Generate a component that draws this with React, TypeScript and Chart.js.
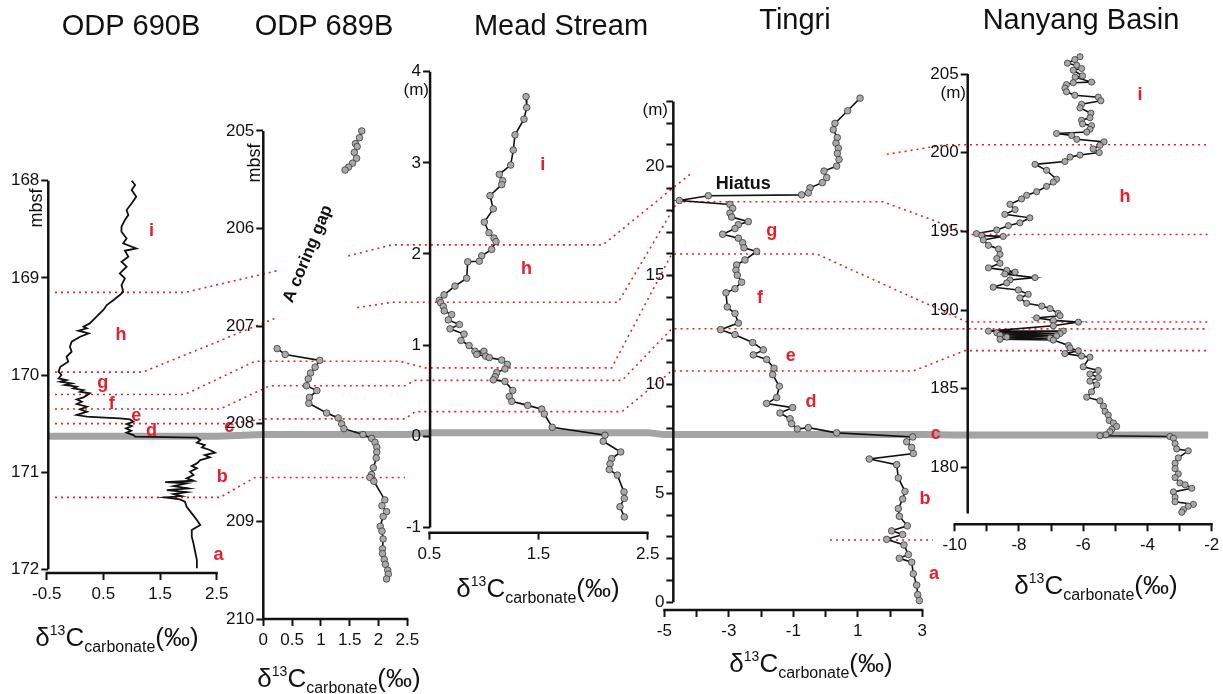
import { useEffect, useRef } from 'react';
import { Chart, registerables } from 'chart.js';

Chart.register(...registerables);

const W = 1223;
const H = 694;
const FONT = "'Liberation Sans', Arial, Helvetica, sans-serif";
const RED = '#e3202b';
const INK = '#111111';

// ================= DATA =================
// ODP 690B : [depth (mbsf), d13C carbonate (permil)]
const odp690b = [
  [168.000, 1.00], [168.045, 1.06], [168.096, 1.00], [168.165, 1.08], [168.233, 1.00], [168.302, 0.91],
  [168.353, 0.94], [168.405, 0.88], [168.473, 0.82], [168.525, 0.82], [168.594, 0.91], [168.645, 0.85],
  [168.697, 1.08], [168.721, 0.88], [168.782, 0.94], [168.834, 0.82], [168.885, 0.91], [168.954, 0.79],
  [169.005, 0.88], [169.074, 0.82], [169.143, 0.85], [169.177, 0.79], [169.228, 0.68], [169.280, 0.56],
  [169.331, 0.50], [169.400, 0.38], [169.469, 0.26], [169.503, 0.15], [169.520, 0.21], [169.544, 0.06],
  [169.571, 0.24], [169.606, 0.09], [169.657, -0.06], [169.709, -0.09], [169.760, -0.06], [169.812, -0.15],
  [169.863, -0.12], [169.915, -0.26], [169.966, -0.29], [170.000, -0.24], [170.035, -0.29], [170.052, -0.15],
  [170.069, -0.26], [170.086, -0.06], [170.103, -0.18], [170.120, 0.03], [170.138, -0.03], [170.155, 0.15],
  [170.172, 0.09], [170.189, 0.26], [170.206, 0.22], [170.230, 0.15], [170.251, 0.03], [170.275, 0.12],
  [170.299, 0.03], [170.326, 0.21], [170.354, 0.09], [170.378, 0.21], [170.412, 0.03], [170.429, 0.21],
  [170.436, 0.44], [170.446, 0.79], [170.457, 0.97], [170.481, 1.03], [170.505, 0.91], [170.525, 1.00],
  [170.549, 0.90], [170.573, 0.99], [170.594, 0.91], [170.618, 1.03], [170.635, 1.06], [170.645, 2.15],
  [170.669, 2.21], [170.697, 2.15], [170.721, 2.29], [170.745, 2.24], [170.772, 2.38], [170.800, 2.47],
  [170.824, 2.29], [170.848, 2.38], [170.875, 2.21], [170.910, 2.15], [170.937, 2.06], [170.961, 2.15],
  [170.995, 2.03], [171.030, 2.09], [171.064, 1.97], [171.088, 2.09], [171.102, 1.59], [171.115, 1.97],
  [171.143, 1.74], [171.167, 2.00], [171.184, 1.62], [171.205, 1.97], [171.225, 1.74], [171.246, 1.88],
  [171.260, 1.59], [171.280, 1.85], [171.304, 1.94], [171.356, 1.97], [171.424, 2.06], [171.493, 2.15],
  [171.544, 2.21], [171.596, 2.06], [171.664, 2.06], [171.733, 2.09], [171.819, 2.12], [171.905, 2.15],
  [171.990, 2.15],
];
const odp690bYTicks = [168, 169, 170, 171, 172];
const odp690bXTicks = [-0.5, 0.5, 1.5, 2.5];

// ODP 689B : [depth (mbsf), d13C]
const odp689bUpper = [
  [205.00, 1.71], [205.07, 1.67], [205.13, 1.60], [205.16, 1.63], [205.22, 1.58],
  [205.28, 1.62], [205.33, 1.55], [205.37, 1.48], [205.40, 1.42],
];
const odp689bLower = [
  [207.23, 0.24], [207.29, 0.38], [207.35, 0.98], [207.42, 0.90], [207.48, 0.82], [207.54, 0.78],
  [207.61, 0.75], [207.66, 0.93], [207.73, 0.80], [207.79, 0.79], [207.89, 1.10], [207.94, 1.30],
  [208.00, 1.36], [208.05, 1.40], [208.11, 1.73], [208.15, 1.88], [208.19, 1.94], [208.24, 1.97],
  [208.29, 1.97], [208.35, 1.96], [208.45, 1.91], [208.52, 1.88], [208.55, 1.85], [208.59, 1.92],
  [208.78, 2.11], [208.84, 2.06], [208.90, 2.14], [208.95, 2.08], [209.05, 2.03], [209.10, 2.06],
  [209.18, 2.08], [209.28, 2.07], [209.33, 2.07], [209.39, 2.10], [209.44, 2.12], [209.50, 2.16],
  [209.54, 2.17], [209.59, 2.14],
];
const odp689bYTicks = [205, 206, 207, 208, 209, 210];
const odp689bXTicks = [0, 0.5, 1, 1.5, 2, 2.5];

// Mead Stream : [height (m), d13C]
const mead = [
  [3.727, 1.386], [3.607, 1.392], [3.479, 1.367], [3.307, 1.285], [3.140, 1.269], [2.976, 1.245],
  [2.874, 1.141], [2.804, 1.172], [2.761, 1.163], [2.640, 1.056], [2.495, 1.086], [2.350, 1.004],
  [2.233, 1.047], [2.175, 1.093], [2.136, 1.111], [2.050, 1.071], [1.980, 0.980], [1.921, 0.958],
  [1.914, 0.852], [1.734, 0.842], [1.648, 0.735], [1.551, 0.635], [1.492, 0.592], [1.465, 0.604],
  [1.425, 0.628], [1.375, 0.637], [1.335, 0.705], [1.277, 0.674], [1.226, 0.775], [1.179, 0.690],
  [1.121, 0.818], [1.051, 0.790], [0.996, 0.864], [0.933, 0.918], [0.933, 1.000], [0.898, 0.934],
  [0.879, 1.016], [0.863, 1.049], [0.836, 1.163], [0.789, 1.214], [0.739, 1.193], [0.699, 1.117],
  [0.652, 1.102], [0.619, 1.086], [0.601, 1.193], [0.503, 1.264], [0.437, 1.233], [0.383, 1.255],
  [0.339, 1.401], [0.298, 1.529], [0.244, 1.553], [0.098, 1.626], [0.011, 2.109], [-0.055, 2.093],
  [-0.172, 2.253], [-0.245, 2.170], [-0.303, 2.155], [-0.365, 2.148], [-0.426, 2.222], [-0.610, 2.283],
  [-0.682, 2.286], [-0.773, 2.246], [-0.885, 2.286],
];
const meadYTicks = [-1, 0, 1, 2, 3, 4];
const meadXTicks = [0.5, 1.5, 2.5];

// Tingri : [height (m), d13C]
const tingri = [
  [23.15, 1.07], [22.57, 0.685], [21.99, 0.292], [21.70, 0.241], [21.34, 0.365], [21.08, 0.324],
  [20.85, 0.396], [20.61, 0.365], [20.33, 0.417], [20.03, 0.344], [19.80, -0.048], [19.50, 0.035],
  [19.27, -0.100], [19.03, -0.482], [18.80, -0.534], [18.71, -0.741], [18.67, -3.635], [18.45, -4.534],
  [18.27, -2.964], [18.09, -2.881], [17.87, -2.964], [17.69, -2.912], [17.48, -2.395], [17.34, -2.705],
  [17.16, -2.809], [16.90, -3.191], [16.72, -2.705], [16.51, -2.571], [16.28, -2.530], [16.11, -2.137],
  [15.72, -2.499], [15.49, -2.757], [15.25, -2.778], [15.02, -2.737], [14.70, -2.602], [14.40, -2.809],
  [14.21, -3.088], [13.56, -3.046], [13.26, -2.809], [12.82, -2.705], [12.52, -3.253], [12.29, -2.809],
  [11.93, -2.261], [11.59, -1.930], [11.36, -2.240], [11.15, -1.826], [10.75, -1.599], [10.45, -1.640],
  [9.92, -1.433], [9.40, -1.516], [9.13, -1.826], [8.94, -1.020], [8.69, -1.413], [8.43, -1.102],
  [8.20, -1.051], [7.96, -0.875], [8.02, -0.534], [7.78, 0.345], [7.59, 2.702], [7.37, 2.516],
  [7.11, 2.671], [6.83, 2.722], [6.58, 1.357], [6.32, 2.205], [5.71, 2.257], [5.09, 2.463],
  [4.74, 2.391], [4.30, 2.257], [3.95, 2.288], [3.51, 2.536], [3.28, 2.050], [3.11, 2.391],
  [2.89, 1.895], [2.63, 2.432], [2.19, 2.567], [2.02, 2.288], [1.84, 2.671], [1.31, 2.722],
  [0.79, 2.826], [0.35, 2.857], [0.08, 2.908],
];
const tingriYTicks = [0, 1, 2, 3, 4, 5, 6, 7, 8, 9, 10, 11, 12, 13, 14, 15, 16, 17, 18, 19, 20, 21, 22, 23];
const tingriYLabels = [0, 5, 10, 15, 20];
const tingriXTicks = [-5, -4, -3, -2, -1, 0, 1, 2, 3];
const tingriXLabels = [-5, -3, -1, 1, 3];

// Nanyang Basin : [height (m), d13C]
const nanyang = [
  [206.10, -6.10], [205.92, -6.26], [205.69, -6.49], [205.55, -6.20], [205.35, -6.05], [205.24, -6.31],
  [204.89, -6.02], [204.80, -6.25], [204.49, -5.74], [204.45, -6.31], [204.33, -6.52], [204.10, -6.57],
  [203.87, -6.52], [203.65, -6.26], [203.53, -5.53], [203.30, -5.45], [203.08, -6.05], [202.85, -6.10],
  [202.51, -5.76], [202.22, -5.79], [202.06, -6.05], [201.83, -6.02], [201.72, -5.74], [201.49, -5.79],
  [201.31, -5.89], [201.22, -6.83], [201.10, -6.36], [200.85, -6.20], [200.69, -5.35], [200.47, -5.48],
  [200.24, -5.69], [200.01, -5.50], [199.85, -6.10], [199.72, -6.41], [199.44, -6.57], [199.26, -7.50],
  [198.88, -7.14], [198.31, -6.83], [198.13, -6.93], [197.86, -7.14], [197.52, -7.45], [197.29, -7.76],
  [197.06, -7.92], [196.72, -8.28], [196.38, -8.12], [196.08, -8.44], [195.86, -7.66], [195.54, -7.97],
  [195.36, -8.33], [195.09, -8.69], [194.86, -9.32], [194.73, -9.16], [194.68, -8.49], [194.45, -9.11],
  [194.11, -8.95], [193.88, -8.64], [193.54, -8.59], [193.27, -8.69], [192.97, -8.59], [192.68, -8.95],
  [192.52, -8.38], [192.41, -8.12], [192.29, -8.44], [192.06, -7.50], [191.91, -8.28], [191.72, -8.38],
  [191.45, -8.80], [191.27, -8.02], [191.00, -7.71], [190.77, -7.97], [190.43, -7.76], [190.25, -7.29],
  [190.09, -7.03], [189.79, -6.78], [189.64, -6.72], [189.50, -7.45], [189.34, -6.93], [189.23, -6.15],
  [189.00, -6.93], [188.66, -8.95], [188.66, -6.62], [188.55, -8.69], [188.50, -6.72], [188.41, -8.59],
  [188.36, -6.83], [188.28, -8.38], [188.21, -7.03], [188.14, -8.59], [188.09, -6.93], [187.75, -6.46],
  [187.59, -6.41], [187.41, -6.15], [187.23, -6.57], [187.07, -6.05], [187.00, -5.79], [186.39, -6.00],
  [186.16, -5.53], [185.93, -5.79], [185.71, -5.53], [185.48, -5.79], [185.25, -5.58], [184.80, -5.74],
  [184.46, -5.89], [184.23, -5.48], [183.89, -5.37], [183.55, -5.32], [183.32, -5.22], [182.98, -5.19],
  [182.82, -5.06], [182.60, -4.96], [182.42, -5.11], [182.26, -5.17], [182.07, -5.29], [182.01, -5.48],
  [181.96, -3.30], [181.85, -3.19], [181.51, -3.14], [181.17, -3.09], [181.05, -2.73], [180.60, -3.04],
  [180.26, -3.14], [179.92, -3.14], [179.58, -3.04], [179.35, -3.14], [179.01, -2.99], [178.89, -2.83],
  [178.67, -2.62], [178.44, -3.19], [178.10, -3.14], [177.81, -3.14], [177.65, -2.57], [177.53, -2.73],
  [177.31, -2.88], [177.15, -2.93],
];
const nanyangYTicks = [180, 185, 190, 195, 200, 205];
const nanyangXTicks = [-10, -9, -8, -7, -6, -5, -4, -3, -2];
const nanyangXLabels = [-10, -8, -6, -4, -2];

// ---- interval letters: [letter, d13C, depth/height] ----
const odp690bLetters = [
  ['i', 1.35, 168.52], ['h', 0.81, 169.59], ['g', 0.49, 170.08], ['f', 0.65, 170.30], ['e', 1.08, 170.42],
  ['d', 1.35, 170.58], ['c', 2.72, 170.54], ['b', 2.60, 171.05], ['a', 2.53, 171.85],
];
const meadLetters = [['i', 1.54, 2.98], ['h', 1.39, 1.84]];
const tingriLetters = [
  ['g', -1.67, 17.04], ['f', -2.03, 13.97], ['e', -1.08, 11.3], ['d', -0.45, 9.19],
  ['c', 3.42, 7.73], ['b', 3.08, 4.74], ['a', 3.36, 1.31],
];
const nanyangLetters = [['i', -4.23, 203.64], ['h', -4.70, 197.18]];

// ---- correlation tie lines: [panel, d13C, depth/height] ----
const tieIH1 = [[0, -0.354, 169.15], [0, 1.94, 169.15], [1, 0.255, 206.43]];
const tieIH2 = [[1, 1.475, 206.28], [2, 0.158, 2.1], [2, 2.09, 2.1], [3, -4.20, 19.66]];
const tieIH3 = [[3, 1.90, 20.57], [4, -10.3, 200.5], [4, -2.11, 200.5]];
const tieHG1 = [[0, -0.354, 169.97], [0, 1.20, 169.97], [1, 0.24, 206.91]];
const tieHG2 = [[1, 1.63, 206.81], [2, 0.16, 1.47], [2, 2.23, 1.47], [3, -4.59, 18.39], [3, 1.78, 18.39], [4, -9.46, 194.8], [4, -2.11, 194.8]];
const tieGF = [[0, -0.354, 170.2], [0, 1.94, 170.2], [1, -0.144, 207.36], [1, 2.38, 207.36], [2, 0.46, 0.75], [2, 2.17, 0.75], [3, -4.77, 15.99], [3, -0.27, 15.99], [4, -9.62, 189.24], [4, -2.11, 189.24]];
const tieFE = [[0, -0.354, 170.35], [0, 2.56, 170.35], [1, 0.116, 207.61], [1, 2.46, 207.61], [2, 0.37, 0.613], [2, 2.265, 0.613], [3, -4.77, 12.56], [4, -2.11, 188.8]];
const tieED = [[0, -0.354, 170.5], [0, 2.73, 170.5], [1, 0.03, 207.95], [1, 2.46, 207.95], [2, 0.37, 0.27], [2, 2.265, 0.27], [3, -4.77, 10.62], [3, 2.72, 10.62], [4, -9.68, 187.42], [4, -2.11, 187.42]];
const tieBA1 = [[0, -0.354, 171.26], [0, 2.56, 171.26], [1, -0.144, 208.55], [1, 2.46, 208.55]];
const tieBA2 = [[3, 0.14, 2.86], [3, 3.33, 2.86]];
const ties = [tieIH1, tieIH2, tieIH3, tieHG1, tieHG2, tieGF, tieFE, tieED, tieBA1, tieBA2];
// boundary c (grey band)
const bandC = [[0, -0.472, 170.63], [0, 2.5, 170.63], [1, 0, 208.11], [1, 2.5, 208.11], [2, 0.5, 0.04], [2, 2.5, 0.04], [3, -5, 7.7], [3, 3, 7.7], [4, -10, 182.05], [4, -2.11, 182.05]];

// ================= LAYOUT =================
const Y_BOX = 40;
const X_BOX = 40;

const PANELS: any[] = [
  {
    title: 'ODP 690B', titleXY: [131, 27], axisTitleXY: [117, 637],
    area: { left: 46.7, right: 216.7, top: 180.7, bottom: 573 },
    xMin: -0.5, xMax: 2.5, xTicks: odp690bXTicks, xLabels: odp690bXTicks, xLine: [-0.5, 2.5],
    yMin: 168, yMax: 172.038, reverse: true, yTicks: odp690bYTicks, yLabels: odp690bYTicks, yLine: [168, 172],
    yAxisAt: -0.472,
    series: [{ data: odp690b, radius: 0, width: 1.8 }],
    letters: odp690bLetters,
    notes: [],
    fixedText: [{ text: 'mbsf', x: 36.7, y: 208, rot: -90, font: `18px ${FONT}` }],
  },
  {
    title: 'ODP 689B', titleXY: [324, 27], axisTitleXY: [339, 678],
    area: { left: 263.3, right: 407.3, top: 121.2, bottom: 619 },
    xMin: 0, xMax: 2.5, xTicks: odp689bXTicks, xLabels: odp689bXTicks, xLine: [0, 2.5],
    yMin: 204.9, yMax: 210, reverse: true, yTicks: odp689bYTicks, yLabels: odp689bYTicks, yLine: [205, 210],
    yAxisAt: 0,
    series: [{ data: odp689bUpper, radius: 3.3, width: 1.6 }, { data: odp689bLower, radius: 3.3, width: 1.6 }],
    letters: [],
    notes: [{ text: 'A coring gap', x: 0.776, y: 206.26, rot: -67.4, font: `bold 17px ${FONT}`, color: INK }],
    fixedText: [{ text: 'mbsf', x: 255, y: 163, rot: -90, font: `18px ${FONT}` }],
  },
  {
    title: 'Mead Stream', titleXY: [561, 27], axisTitleXY: [538, 588],
    area: { left: 429.3, right: 647.7, top: 71.7, bottom: 532.7 },
    xMin: 0.5, xMax: 2.5, xTicks: meadXTicks, xLabels: meadXTicks, xLine: [0.5, 2.5],
    yMin: -1.058, yMax: 4, reverse: false, yTicks: meadYTicks, yLabels: meadYTicks, yLine: [-1, 4],
    yAxisAt: 0.507,
    series: [{ data: mead, radius: 3.3, width: 1.6 }],
    letters: meadLetters,
    notes: [],
    fixedText: [{ text: '(m)', x: 429, y: 90, rot: 0, font: `17px ${FONT}`, align: 'right' }],
  },
  {
    title: 'Tingri', titleXY: [795, 21], axisTitleXY: [811, 663],
    area: { left: 664.3, right: 922.3, top: 92.7, bottom: 610 },
    xMin: -5, xMax: 3, xTicks: tingriXTicks, xLabels: tingriXLabels, xLine: [-5, 3],
    yMin: -0.354, yMax: 23.4, reverse: false, yTicks: tingriYTicks, yLabels: tingriYLabels, yLine: [0, 23],
    yAxisAt: -4.72,
    series: [{ data: tingri, radius: 3.3, width: 1.6 }],
    letters: tingriLetters,
    notes: [{ text: 'Hiatus', x: -2.55, y: 19.2, rot: 0, font: `bold 18px ${FONT}`, color: INK }],
    fixedText: [{ text: '(m)', x: 668, y: 110, rot: 0, font: `17px ${FONT}`, align: 'right' }],
  },
  {
    title: 'Nanyang Basin', titleXY: [1081, 21], axisTitleXY: [1096, 585],
    area: { left: 954.7, right: 1211.7, top: 52, bottom: 524.3 },
    xMin: -10, xMax: -2, xTicks: nanyangXTicks, xLabels: nanyangXLabels, xLine: [-10, -2],
    yMin: 176.38, yMax: 206.4, reverse: false, yTicks: nanyangYTicks, yLabels: nanyangYTicks, yLine: [177.06, 205],
    yAxisAt: -9.595,
    series: [{ data: nanyang, radius: 3.1, width: 1.6 }],
    letters: nanyangLetters,
    notes: [],
    fixedText: [{ text: '(m)', x: 966, y: 93, rot: 0, font: `17px ${FONT}`, align: 'right' }],
  },
];

function drawAxisTitle(ctx: CanvasRenderingContext2D, cx: number, cy: number) {
  const parts: [string, string, number][] = [
    ['\u03B4', `26px ${FONT}`, 0],
    ['13', `14px ${FONT}`, -11],
    ['C', `26px ${FONT}`, 0],
    ['carbonate', `16px ${FONT}`, 6],
    ['(\u2030)', `26px ${FONT}`, 0],
  ];
  let total = 0;
  const widths = parts.map(([t, f]) => {
    ctx.font = f;
    const w = ctx.measureText(t).width;
    total += w;
    return w;
  });
  let x = cx - total / 2;
  const base = cy + 9;
  ctx.fillStyle = INK;
  ctx.textAlign = 'left';
  ctx.textBaseline = 'alphabetic';
  parts.forEach(([t, f, dy], i) => {
    ctx.font = f;
    ctx.fillText(t, x, base + dy);
    x += widths[i];
  });
}

function makeDecor(p: any) {
  return {
    id: 'panelDecor',
    afterLayout(chart: any) {
      const ys = chart.scales.y;
      const dx = chart.scales.x.getPixelForValue(p.yAxisAt) - chart.chartArea.left;
      ys.left += dx;
      ys.right += dx;
    },
    afterDraw(chart: any) {
      const ctx: CanvasRenderingContext2D = chart.ctx;
      const xs = chart.scales.x;
      const ys = chart.scales.y;
      ctx.save();
      // axis lines
      ctx.strokeStyle = INK;
      ctx.lineWidth = 2.5;
      const ax = xs.getPixelForValue(p.yAxisAt);
      ctx.beginPath();
      ctx.moveTo(ax, ys.getPixelForValue(p.yLine[0]));
      ctx.lineTo(ax, ys.getPixelForValue(p.yLine[1]));
      ctx.stroke();
      const ay = chart.chartArea.bottom;
      ctx.beginPath();
      ctx.moveTo(xs.getPixelForValue(p.xLine[0]) - 1, ay);
      ctx.lineTo(xs.getPixelForValue(p.xLine[1]) + 1, ay);
      ctx.stroke();
      // title
      ctx.fillStyle = INK;
      ctx.font = `29px ${FONT}`;
      ctx.textAlign = 'center';
      ctx.textBaseline = 'middle';
      ctx.fillText(p.title, p.titleXY[0], p.titleXY[1]);
      // axis title
      drawAxisTitle(ctx, p.axisTitleXY[0], p.axisTitleXY[1]);
      // fixed texts (units)
      p.fixedText.forEach((t: any) => {
        ctx.save();
        ctx.translate(t.x, t.y);
        ctx.rotate((t.rot * Math.PI) / 180);
        ctx.font = t.font;
        ctx.fillStyle = INK;
        ctx.textAlign = t.align || 'center';
        ctx.textBaseline = 'middle';
        ctx.fillText(t.text, 0, 0);
        ctx.restore();
      });
      // notes in data coordinates
      p.notes.forEach((t: any) => {
        ctx.save();
        ctx.translate(xs.getPixelForValue(t.x), ys.getPixelForValue(t.y));
        ctx.rotate((t.rot * Math.PI) / 180);
        ctx.font = t.font;
        ctx.fillStyle = t.color;
        ctx.textAlign = 'center';
        ctx.textBaseline = 'middle';
        ctx.fillText(t.text, 0, 0);
        ctx.restore();
      });
      // interval letters
      ctx.font = `bold 18px ${FONT}`;
      ctx.fillStyle = RED;
      ctx.textAlign = 'center';
      ctx.textBaseline = 'middle';
      p.letters.forEach(([t, x, y]: any) => {
        ctx.fillText(t, xs.getPixelForValue(x), ys.getPixelForValue(y));
      });
      ctx.restore();
    },
  };
}

function tickSetter(values: number[]) {
  return (scale: any) => {
    scale.ticks = values.map((v) => ({ value: v }));
  };
}
function zeroPadding(scale: any) {
  scale.paddingLeft = 0;
  scale.paddingRight = 0;
  scale.paddingTop = 0;
  scale.paddingBottom = 0;
}

function panelConfig(p: any): any {
  const tickFont = { family: FONT, size: 17 };
  const grid = { drawOnChartArea: false, drawTicks: true, tickLength: 7, tickWidth: 2, tickColor: INK, color: INK };
  return {
    type: 'scatter',
    data: {
      datasets: p.series.map((s: any) => ({
        data: s.data.map((r: number[]) => ({ x: r[1], y: r[0] })),
        showLine: true,
        borderColor: INK,
        borderWidth: s.width,
        pointRadius: s.radius,
        pointBackgroundColor: '#a9a9a9',
        pointBorderColor: '#3a3a3a',
        pointBorderWidth: 0.8,
        clip: false,
        tension: 0,
      })),
    },
    options: {
      responsive: false,
      animation: false,
      devicePixelRatio: 1,
      events: [],
      layout: {
        padding: {
          left: p.area.left - Y_BOX,
          right: W - p.area.right,
          top: p.area.top,
          bottom: H - p.area.bottom - X_BOX,
        },
      },
      plugins: { legend: { display: false }, tooltip: { enabled: false }, title: { display: false } },
      scales: {
        x: {
          type: 'linear',
          position: 'bottom',
          min: p.xMin,
          max: p.xMax,
          afterBuildTicks: tickSetter(p.xTicks),
          afterFit: (s: any) => {
            s.height = X_BOX;
            zeroPadding(s);
          },
          grid,
          border: { display: false },
          ticks: {
            autoSkip: false,
            maxRotation: 0,
            minRotation: 0,
            padding: 4,
            color: INK,
            font: tickFont,
            callback: (v: number) => (p.xLabels.includes(v) ? String(v) : ''),
          },
        },
        y: {
          type: 'linear',
          position: 'left',
          min: p.yMin,
          max: p.yMax,
          reverse: p.reverse,
          afterBuildTicks: tickSetter(p.yTicks),
          afterFit: (s: any) => {
            s.width = Y_BOX;
            zeroPadding(s);
          },
          grid,
          border: { display: false },
          ticks: {
            autoSkip: false,
            padding: 2,
            color: INK,
            font: tickFont,
            callback: (v: number) => (p.yLabels.includes(v) ? String(v) : ''),
          },
        },
      },
    },
    plugins: [makeDecor(p)],
  };
}

function overlayConfig(charts: any[]): any {
  const toPx = (v: number[]) => [
    charts[v[0]].scales.x.getPixelForValue(v[1]),
    charts[v[0]].scales.y.getPixelForValue(v[2]),
  ];
  const path = (ctx: CanvasRenderingContext2D, pts: number[][]) => {
    ctx.beginPath();
    pts.forEach((v, i) => {
      const [x, y] = toPx(v);
      if (i === 0) ctx.moveTo(x, y);
      else ctx.lineTo(x, y);
    });
    ctx.stroke();
  };
  return {
    type: 'scatter',
    data: { datasets: [] },
    options: {
      responsive: false,
      animation: false,
      devicePixelRatio: 1,
      events: [],
      plugins: { legend: { display: false }, tooltip: { enabled: false } },
      scales: { x: { display: false }, y: { display: false } },
    },
    plugins: [
      {
        id: 'ties',
        afterDraw(chart: any) {
          const ctx: CanvasRenderingContext2D = chart.ctx;
          ctx.save();
          ctx.strokeStyle = '#a4a4a4';
          ctx.lineWidth = 7;
          ctx.lineJoin = 'round';
          path(ctx, bandC);
          ctx.strokeStyle = RED;
          ctx.lineWidth = 1.6;
          ctx.lineJoin = 'miter';
          ctx.setLineDash([2, 4]);
          ties.forEach((t) => path(ctx, t));
          ctx.restore();
        },
      },
    ],
  };
}

export default function App() {
  const refs = useRef<(HTMLCanvasElement | null)[]>([]);
  useEffect(() => {
    const charts = PANELS.map((p, i) => new Chart(refs.current[i + 1] as HTMLCanvasElement, panelConfig(p)));
    const overlay = new Chart(refs.current[0] as HTMLCanvasElement, overlayConfig(charts));
    return () => {
      overlay.destroy();
      charts.forEach((c) => c.destroy());
    };
  }, []);
  return (
    <div style={{ position: 'absolute', left: 0, top: 0, width: W, height: H, background: '#ffffff', overflow: 'hidden' }}>
      {[0, 1, 2, 3, 4, 5].map((i) => (
        <canvas
          key={i}
          ref={(el) => {
            refs.current[i] = el;
          }}
          width={W}
          height={H}
          style={{ position: 'absolute', left: 0, top: 0, width: W, height: H }}
        />
      ))}
    </div>
  );
}
